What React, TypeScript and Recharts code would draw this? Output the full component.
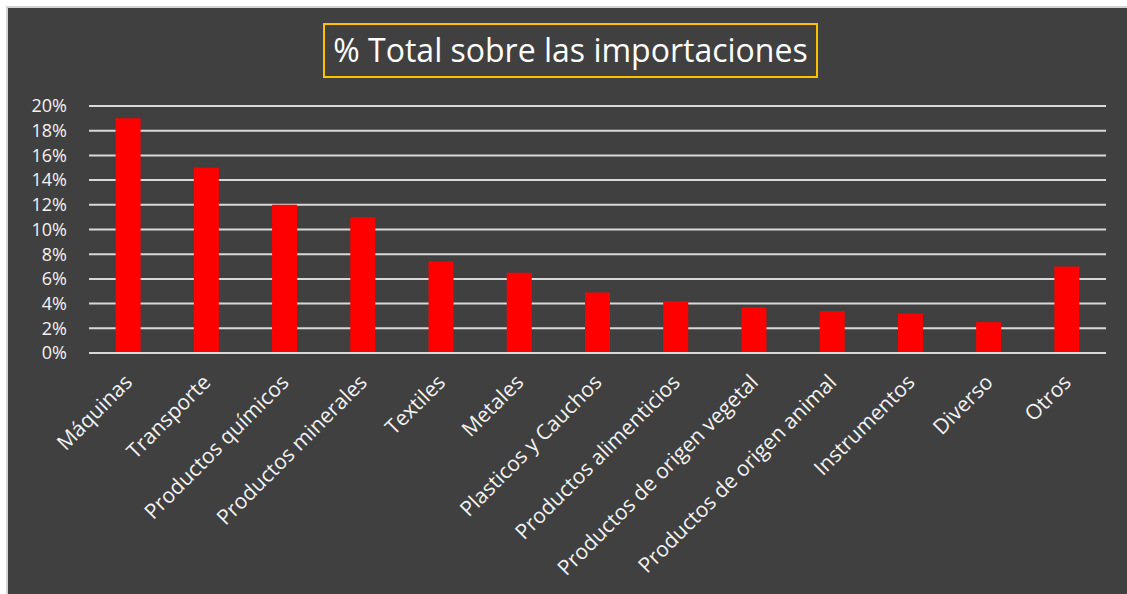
import React from 'react'
import { BarChart, Bar, XAxis, YAxis, CartesianGrid } from 'recharts'

const categories = [
  'Máquinas',
  'Transporte',
  'Productos químicos',
  'Productos minerales',
  'Textiles',
  'Metales',
  'Plasticos y Cauchos',
  'Productos alimenticios',
  'Productos de origen vegetal',
  'Productos de origen animal',
  'Instrumentos',
  'Diverso',
  'Otros',
]

const shares = [19, 15, 12, 11, 7.4, 6.5, 4.9, 4.2, 3.7, 3.4, 3.2, 2.5, 7]

const yTicks = [0, 2, 4, 6, 8, 10, 12, 14, 16, 18, 20]

const title = '% Total sobre las importaciones'

const data = categories.map((name, i) => ({ name, value: shares[i] }))

const font = '"Open Sans", "DejaVu Sans", sans-serif'

export default function App() {
  return (
    <div
      style={{
        position: 'absolute',
        left: 6,
        top: 6,
        width: 1121,
        height: 588,
        background: '#404040',
        borderLeft: '2px solid #d4d4d4',
        borderTop: '2px solid #d4d4d4',
        fontFamily: font,
      }}
    >
      <div
        style={{
          position: 'absolute',
          left: 315,
          top: 15,
          width: 491,
          height: 51,
          border: '2px solid #ffc000',
          color: '#ffffff',
          fontSize: 32,
          lineHeight: '50px',
          textAlign: 'center',
          whiteSpace: 'nowrap',
        }}
      >
        {title}
      </div>
      <BarChart
        width={1121}
        height={588}
        data={data}
        margin={{ top: 98, right: 23, left: 0, bottom: 12 }}
        barCategoryGap="34%"
      >
        <CartesianGrid vertical={false} stroke="#d9d9d9" strokeWidth={2} />
        <XAxis
          dataKey="name"
          interval={0}
          height={231}
          axisLine={{ stroke: '#d9d9d9', strokeWidth: 2 }}
          tickLine={false}
          angle={-45}
          textAnchor="end"
          tickMargin={14}
          dx={-5}
          tick={{ fill: '#f2f2f2', fontSize: 21, fontFamily: font }}
        />
        <YAxis
          width={81}
          domain={[0, 20]}
          ticks={yTicks}
          interval={0}
          axisLine={false}
          tickLine={false}
          tickMargin={16}
          tickFormatter={(v: number) => `${v}%`}
          tick={{ fill: '#f2f2f2', fontSize: 18, fontFamily: font }}
        />
        <Bar dataKey="value" fill="#ff0000" isAnimationActive={false} />
      </BarChart>
    </div>
  )
}
